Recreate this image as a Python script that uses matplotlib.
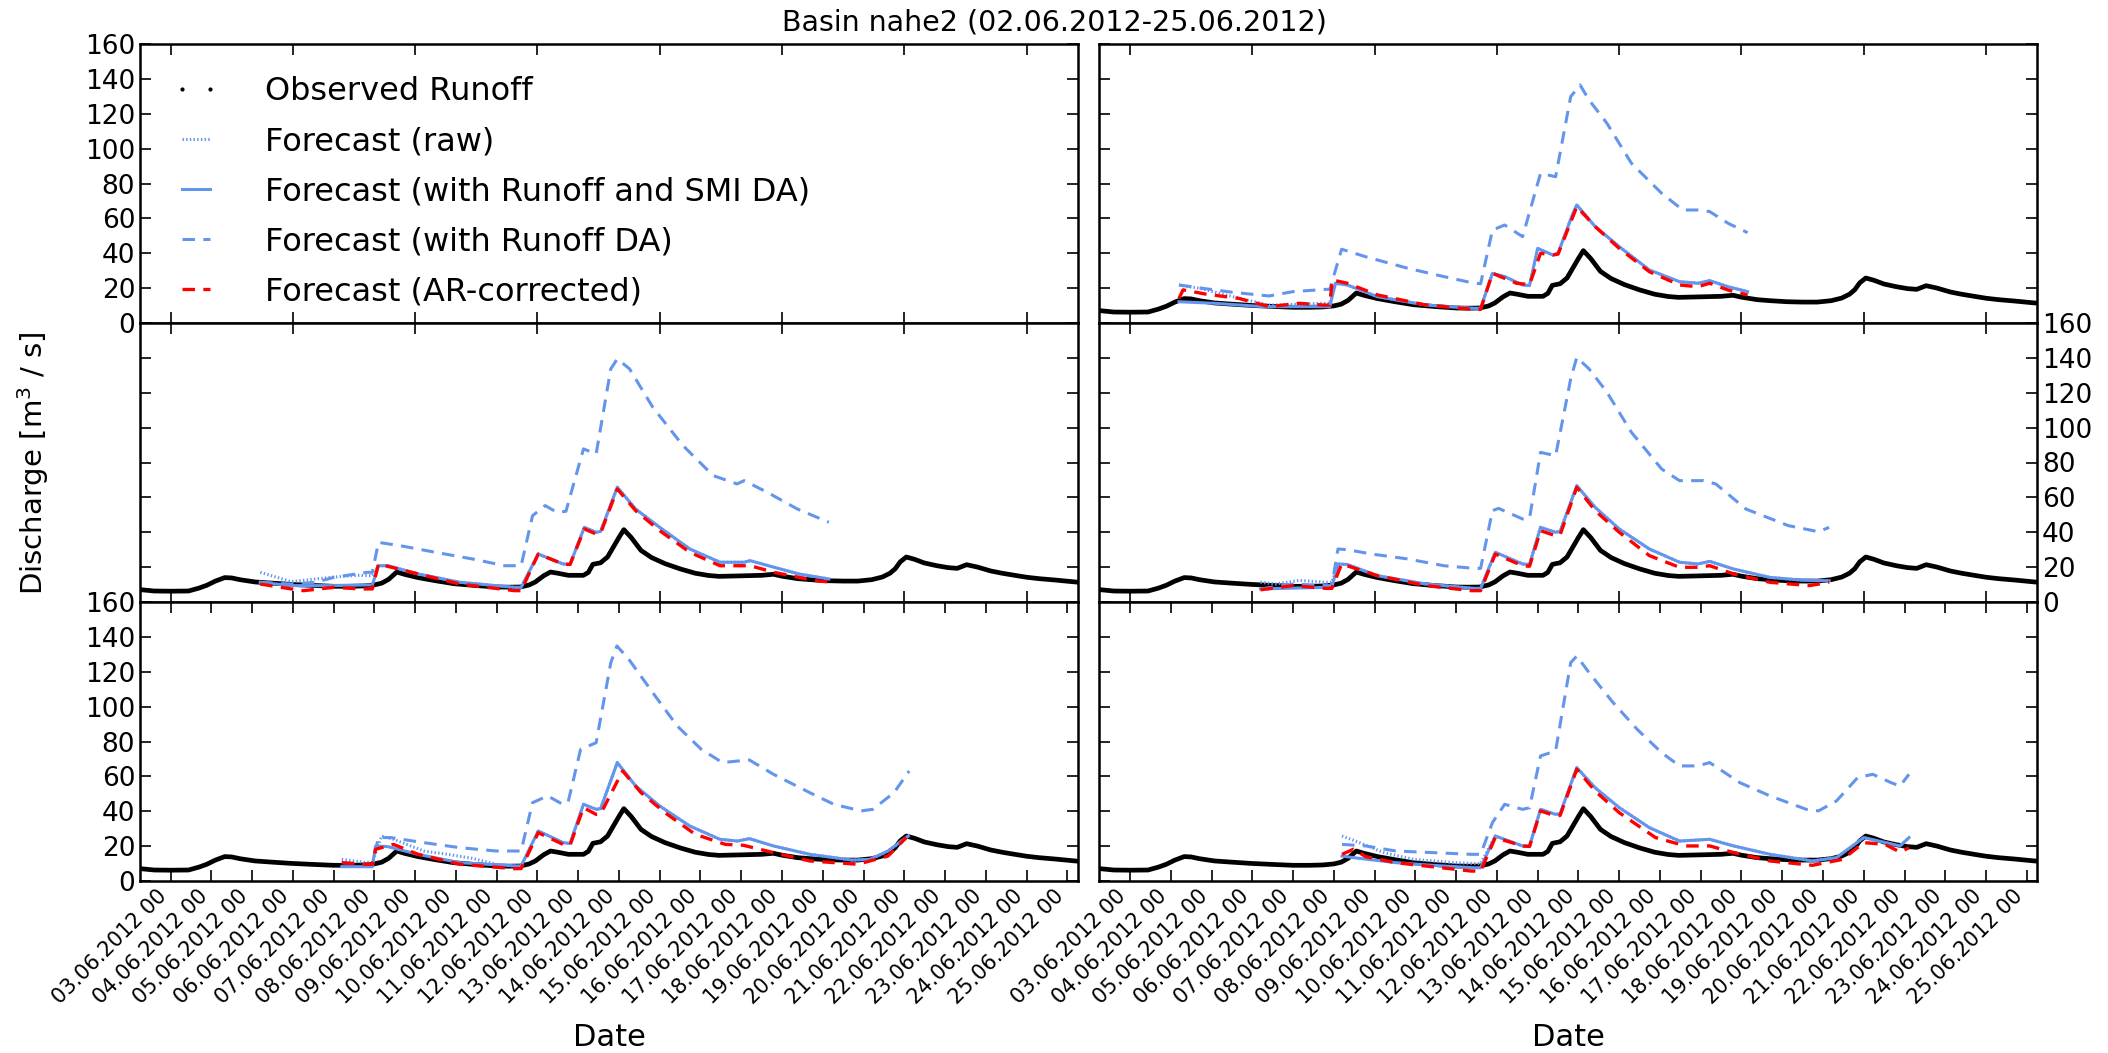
import numpy as np
import matplotlib
matplotlib.use("Agg")
import matplotlib.pyplot as plt
from matplotlib.lines import Line2D

# ---------------- data (time in days since 03.06.2012 00:00) ----------------
obs_day = [-0.75, -0.4, 0.0, 0.44, 0.7, 0.89, 1.1, 1.33, 1.5, 1.7, 2.07, 2.5, 2.96, 3.5, 4.0,
           4.4, 4.73, 5.0, 5.18, 5.35, 5.55, 5.75, 6.07, 6.5, 6.95, 7.5, 8.0, 8.3, 8.58, 8.8,
           8.95, 9.15, 9.32, 9.5, 9.76, 10.13, 10.25, 10.36, 10.55, 10.72, 10.85, 11.0, 11.12,
           11.3, 11.54, 11.8, 12.13, 12.5, 12.87, 13.2, 13.46, 14.0, 14.5, 14.79, 15.0, 15.38,
           15.7, 16.12, 16.5, 16.86, 17.2, 17.46, 17.65, 17.78, 17.9, 18.05, 18.25, 18.49, 18.8,
           19.08, 19.3, 19.53, 19.8, 20.12, 20.4, 20.71, 21.0, 21.3, 21.7, 22.19, 22.25]
obs_q = [7.1, 6.3, 6.2, 6.3, 8.0, 9.6, 12.0, 14.0, 13.8, 12.8, 11.5, 10.8, 10.1, 9.5, 9.0,
         9.0, 9.2, 9.8, 10.8, 13.0, 17.2, 15.8, 14.0, 12.2, 10.5, 9.4, 8.6, 8.5, 8.6, 9.8,
         11.5, 15.0, 17.2, 16.5, 15.3, 15.3, 17.0, 21.6, 22.5, 25.8, 31.0, 37.0, 41.5,
         37.0, 29.6, 25.5, 22.0, 19.0, 16.5, 15.2, 14.7, 15.0, 15.3, 15.9, 14.8, 13.4,
         12.8, 12.2, 12.0, 12.0, 12.8, 14.3, 16.5, 19.1, 23.0, 25.8, 24.5, 22.4, 20.8,
         19.7, 19.3, 21.4, 20.0, 17.8, 16.5, 15.3, 14.2, 13.4, 12.6, 11.5, 11.4]

# panel 1 (top right): forecast issued 04.06
p1_smi_t = [1.2, 2.07, 3.26, 4.0, 4.9, 5.04, 5.33, 6.07, 7.26, 8.44, 8.6, 8.89, 9.19, 9.63, 9.8, 10.0,
            10.37, 10.5, 10.85, 10.96, 11.41, 12.0, 12.74, 13.48, 13.93, 14.22, 14.67, 15.15]
p1_smi = [12.2, 11.3, 9.4, 9.4, 9.4, 22.8, 21.8, 15.1, 10.3, 8.4, 8.4, 28.5, 26.6, 21.8, 21.5, 42.8,
          39.0, 40.0, 62.0, 67.7, 55.3, 43.8, 30.4, 23.7, 22.8, 24.3, 20.8, 18.0]
p1_rda_t = [1.2, 1.78, 2.52, 3.41, 4.0, 4.81, 4.9, 5.19, 5.78, 6.81, 7.7, 8.44, 8.6, 8.89, 9.19, 9.63,
            10.07, 10.44, 10.81, 11.04, 11.26, 11.7, 12.3, 13.04, 13.56, 13.93, 14.22, 14.67, 15.15]
p1_rda = [21.8, 19.9, 17.6, 15.5, 18.0, 19.3, 19.3, 42.3, 38.0, 31.4, 26.6, 22.8, 22.5, 53.3, 56.2, 49.5,
          85.8, 83.9, 129.8, 136.5, 127.9, 114.5, 91.6, 74.4, 64.8, 64.8, 63.9, 57.2, 51.8]
p1_ar_t = [1.2, 1.3, 1.85, 2.67, 3.41, 4.15, 4.74, 4.9, 4.96, 5.33, 6.07, 7.26, 8.44, 8.6, 8.89, 9.48,
           9.8, 10.07, 10.37, 10.5, 10.96, 11.41, 12.0, 12.74, 13.48, 13.93, 14.22, 14.67, 15.15]
p1_ar = [14.1, 19.0, 16.6, 14.1, 9.4, 11.3, 10.3, 10.3, 24.7, 22.8, 16.1, 10.3, 7.8, 7.8, 28.5, 22.8,
         22.0, 40.0, 39.0, 39.5, 66.7, 55.3, 42.8, 29.4, 21.8, 20.8, 22.8, 18.9, 16.1]
p1_raw_t = [1.2, 1.7, 2.52, 3.41, 4.15, 4.74, 4.9, 5.04]
p1_raw = [21.8, 19.9, 15.1, 10.3, 10.8, 11.3, 11.3, 22.8]

# panel 2 (middle left): forecast issued 05.06
p2_smi_t = [2.2, 2.96, 4.0, 4.81, 4.95, 5.1, 5.33, 6.07, 7.1, 8.44, 8.6, 9.02, 9.63, 9.8, 10.15, 10.44,
            10.55, 10.96, 11.41, 12.0, 12.74, 13.48, 14.07, 14.22, 14.81, 15.41, 16.15]
p2_smi = [11.3, 9.4, 9.4, 9.8, 9.8, 20.8, 20.8, 16.1, 11.3, 8.4, 8.4, 27.5, 21.8, 21.5, 42.8, 40.0,
          40.5, 65.8, 53.3, 42.8, 30.4, 22.8, 22.8, 23.7, 19.9, 16.1, 13.2]
p2_rda_t = [2.2, 2.96, 3.56, 4.0, 4.81, 4.95, 5.1, 5.63, 6.5, 7.4, 8.2, 8.6, 8.88, 9.19, 9.48, 9.7,
            10.13, 10.44, 10.8, 10.96, 11.26, 11.83, 12.57, 13.31, 13.9, 14.07, 14.64, 15.38, 16.15]
p2_rda = [11.3, 10.3, 11.3, 14.1, 17.0, 17.0, 34.2, 32.3, 28.5, 24.7, 20.8, 20.8, 49.5, 55.3, 51.4, 52.0,
          87.8, 84.9, 133.7, 139.4, 133.7, 111.7, 89.7, 72.5, 67.7, 69.6, 62.9, 53.3, 45.7]
p2_ar_t = [2.2, 2.96, 3.26, 4.0, 4.66, 4.95, 5.1, 6.07, 7.1, 8.44, 8.6, 9.02, 9.63, 9.8, 10.15, 10.44,
           10.55, 10.96, 11.41, 12.0, 12.74, 13.48, 14.22, 14.81, 15.83, 16.15]
p2_ar = [10.3, 7.5, 6.5, 8.4, 7.5, 7.5, 21.8, 16.1, 10.3, 6.5, 6.5, 27.5, 21.8, 21.5, 41.9, 39.0,
         39.5, 64.8, 52.4, 40.9, 28.5, 20.8, 20.8, 17.0, 12.2, 11.5]
p2_raw_t = [2.2, 2.96, 4.0, 4.59, 4.95, 5.1]
p2_raw = [17.0, 11.7, 14.3, 15.3, 15.0, 20.8]

# panel 3 (middle right): forecast issued 06.06
p3_smi_t = [3.2, 4.81, 4.95, 5.1, 5.33, 6.07, 7.26, 8.44, 8.6, 8.96, 9.63, 9.8, 10.07, 10.44, 10.55,
            10.96, 11.41, 12.0, 12.74, 13.48, 13.93, 14.22, 14.81, 15.7, 16.5, 17.15]
p3_smi = [7.5, 8.4, 8.4, 21.8, 21.5, 15.1, 10.3, 7.8, 7.8, 28.5, 21.8, 21.5, 42.8, 40.0, 40.5,
          66.7, 54.3, 41.9, 30.4, 22.8, 21.8, 23.3, 18.9, 14.1, 12.5, 12.2]
p3_rda_t = [3.2, 4.0, 4.81, 4.95, 5.1, 5.33, 5.93, 6.81, 7.7, 8.44, 8.6, 8.89, 9.04, 9.63, 9.8, 10.07,
            10.44, 10.81, 10.96, 11.26, 11.7, 12.3, 13.04, 13.48, 14.07, 14.37, 15.11, 16.15, 16.89, 17.15]
p3_rda = [7.5, 10.3, 9.4, 9.4, 30.4, 30.0, 27.5, 24.7, 20.8, 19.3, 19.3, 52.4, 53.7, 47.6, 48.0, 85.8,
          83.9, 127.9, 140.3, 133.7, 120.3, 97.3, 76.3, 69.6, 69.6, 67.7, 53.3, 43.8, 40.3, 42.8]
p3_ar_t = [3.2, 4.0, 4.81, 4.95, 5.19, 6.07, 7.26, 8.37, 8.6, 8.96, 9.63, 9.8, 10.07, 10.44, 10.55,
           10.96, 11.41, 12.0, 12.74, 13.48, 13.93, 14.22, 14.81, 15.7, 16.67, 17.15]
p3_ar = [7.0, 9.4, 7.8, 7.8, 21.8, 15.1, 9.4, 6.5, 6.5, 27.5, 20.8, 20.5, 40.9, 38.0, 38.5,
         65.8, 52.4, 40.0, 26.6, 19.9, 19.9, 20.8, 16.1, 11.3, 9.4, 11.3]
p3_raw_t = [3.2, 3.56, 4.15, 4.81, 4.95, 5.1]
p3_raw = [11.3, 10.3, 12.4, 11.3, 11.3, 21.8]

# panel 4 (bottom left): forecast issued 07.06
p4_smi_t = [4.2, 4.81, 4.95, 5.03, 5.33, 6.07, 7.1, 8.5, 8.6, 9.02, 9.63, 9.8, 10.13, 10.44, 10.55,
            10.96, 11.41, 12.0, 12.74, 13.48, 13.91, 14.2, 14.79, 15.68, 16.72, 17.16, 17.6, 18.1]
p4_smi = [8.2, 8.2, 8.2, 20.1, 19.7, 15.3, 10.5, 8.6, 8.6, 28.7, 22.0, 21.5, 44.0, 41.1, 41.5,
          67.9, 54.5, 43.0, 31.5, 23.9, 22.9, 24.3, 20.1, 15.3, 12.0, 12.4, 17.2, 25.8]
p4_rda_t = [4.2, 4.81, 4.95, 5.1, 5.4, 6.21, 7.1, 7.99, 8.6, 8.88, 9.25, 9.62, 9.75, 10.06, 10.44,
            10.8, 10.95, 11.24, 11.83, 12.43, 13.02, 13.54, 13.91, 14.2, 14.79, 15.68, 16.27, 16.94,
            17.23, 17.75, 18.12]
p4_rda = [10.5, 9.6, 9.6, 24.9, 24.9, 22.0, 19.1, 17.2, 17.2, 44.9, 48.8, 44.0, 45.0, 75.5, 79.3,
          125.2, 134.8, 127.2, 108.0, 88.9, 75.5, 67.9, 68.8, 69.4, 61.2, 50.7, 44.0, 40.2,
          41.1, 50.7, 63.1]
p4_ar_t = [4.2, 4.74, 4.95, 5.03, 5.47, 6.07, 7.1, 8.43, 8.6, 9.02, 9.63, 9.8, 10.13, 10.44, 10.55,
           11.09, 11.54, 12.13, 12.87, 13.61, 14.05, 14.79, 15.68, 16.86, 17.6, 18.05]
p4_ar = [10.5, 9.6, 9.6, 18.2, 21.0, 15.3, 9.6, 7.1, 7.1, 27.7, 21.0, 20.5, 42.1, 38.2, 38.5,
         63.1, 50.7, 39.2, 26.8, 21.0, 20.5, 16.3, 11.5, 9.6, 14.3, 24.9]
p4_raw_t = [4.2, 4.74, 4.95, 5.18, 5.47, 6.21, 6.8, 7.4, 8.0]
p4_raw = [12.4, 10.8, 10.8, 25.8, 23.9, 17.2, 15.3, 13.0, 9.5]

# panel 5 (bottom right): forecast issued 08.06
p5_smi_t = [5.2, 5.48, 6.52, 7.41, 8.44, 8.6, 8.96, 9.63, 9.8, 10.07, 10.44, 10.55, 10.96, 11.41,
            12.0, 12.74, 13.48, 14.22, 14.81, 15.7, 16.74, 17.33, 18.0, 18.37, 18.89, 19.11]
p5_smi = [14.3, 13.4, 10.5, 9.0, 7.6, 7.6, 25.8, 20.1, 20.0, 41.1, 38.2, 38.6, 65.0, 53.5,
          42.1, 30.6, 22.9, 23.9, 20.1, 15.3, 11.5, 13.4, 24.9, 22.9, 20.1, 24.9]
p5_rda_t = [5.2, 5.78, 6.52, 7.41, 8.37, 8.6, 8.89, 9.19, 9.63, 9.8, 10.07, 10.44, 10.81, 10.96,
            11.26, 11.85, 12.44, 13.04, 13.48, 13.93, 14.22, 14.96, 15.7, 16.59, 16.89, 17.33,
            17.85, 18.22, 18.67, 18.89, 19.11]
p5_rda = [21.0, 20.1, 17.2, 16.3, 15.3, 15.3, 33.5, 44.0, 41.1, 42.0, 71.7, 74.6, 125.2, 129.0,
          119.5, 102.3, 87.0, 73.6, 66.0, 66.0, 67.9, 56.4, 48.8, 41.1, 40.2, 45.9,
          59.3, 61.2, 56.4, 54.5, 61.2]
p5_ar_t = [5.2, 5.48, 5.78, 6.52, 7.41, 8.37, 8.6, 8.96, 9.63, 9.8, 10.07, 10.44, 10.55, 10.96,
           11.41, 12.0, 12.89, 13.63, 14.22, 14.81, 15.7, 16.74, 17.48, 18.0, 18.52, 18.89, 19.11]
p5_ar = [15.3, 18.2, 14.0, 10.5, 8.2, 5.7, 5.7, 24.9, 20.1, 19.8, 40.2, 37.3, 37.6, 64.1,
         51.6, 39.2, 24.9, 20.1, 20.1, 16.3, 11.5, 9.0, 12.4, 22.0, 21.0, 16.6, 19.1]
p5_raw_t = [5.2, 5.63, 6.22, 6.96, 8.0, 8.44, 8.6, 8.96]
p5_raw = [25.8, 22.0, 16.3, 12.4, 10.5, 10.0, 10.0, 25.8]

x_range_days = [-0.75, 22.25]
labels = ["Observed Runoff", "Forecast (raw)", "Forecast (with Runoff and SMI DA)",
          "Forecast (with Runoff DA)", "Forecast (AR-corrected)"]
title = "Basin nahe2 (02.06.2012-25.06.2012)"

# ---------------- helpers ----------------
BASE = np.datetime64("2012-06-03T00:00")


def to_dates(days):
    return BASE + np.round(np.asarray(days, dtype=float) * 24 * 60).astype("timedelta64[m]")


BLUE = "#6495ED"
plt.rcParams.update({
    "font.family": "DejaVu Sans",
    "xtick.direction": "in", "ytick.direction": "in",
    "xtick.top": True, "ytick.right": True,
    "xtick.major.size": 8, "ytick.major.size": 8,
    "xtick.major.width": 1.2, "ytick.major.width": 1.2,
    "axes.linewidth": 1.8,
    "lines.scale_dashes": False,
})

fig = plt.figure(figsize=(21.08, 10.53), dpi=100)
axes = fig.subplots(3, 2)
fig.subplots_adjust(left=140 / 2108, right=2037 / 2108, top=1 - 44 / 1053,
                    bottom=1 - 881 / 1053, hspace=0, wspace=22 / 938)

panels = {
    (0, 1): (p1_raw_t, p1_raw, p1_smi_t, p1_smi, p1_rda_t, p1_rda, p1_ar_t, p1_ar),
    (1, 0): (p2_raw_t, p2_raw, p2_smi_t, p2_smi, p2_rda_t, p2_rda, p2_ar_t, p2_ar),
    (1, 1): (p3_raw_t, p3_raw, p3_smi_t, p3_smi, p3_rda_t, p3_rda, p3_ar_t, p3_ar),
    (2, 0): (p4_raw_t, p4_raw, p4_smi_t, p4_smi, p4_rda_t, p4_rda, p4_ar_t, p4_ar),
    (2, 1): (p5_raw_t, p5_raw, p5_smi_t, p5_smi, p5_rda_t, p5_rda, p5_ar_t, p5_ar),
}

DASH = (9, 6)
for r in range(3):
    for c in range(2):
        ax = axes[r, c]
        key = (r, c)
        if key in panels:
            raw_t, raw_q, smi_t, smi_q, rda_t, rda_q, ar_t, ar_q = panels[key]
            # raw forecast coincides with the SMI DA run after the early part
            full_raw_t = list(raw_t) + [t for t in smi_t if t > raw_t[-1]]
            full_raw_q = list(raw_q) + [q for t, q in zip(smi_t, smi_q) if t > raw_t[-1]]
            ax.plot(to_dates(obs_day), obs_q, color="black", lw=3.4, zorder=2)
            ax.plot(to_dates(full_raw_t), full_raw_q, color=BLUE, lw=2.2, ls=":", zorder=3)
            ax.plot(to_dates(smi_t), smi_q, color=BLUE, lw=2.2, ls="-", zorder=3)
            ax.plot(to_dates(rda_t), rda_q, color=BLUE, lw=2.2, ls="--", dashes=DASH, zorder=3)
            ax.plot(to_dates(ar_t), ar_q, color="red", lw=2.4, ls="--", dashes=DASH, zorder=4)
        ax.set_xlim(to_dates(x_range_days))
        ax.set_ylim(0, 160)
        ax.set_yticks(np.arange(0, 161, 20))
        ax.tick_params(axis="y", labelsize=19)
        if r == 2:
            tick_days = np.arange(0, 23, 1)
            tick_dates = to_dates(tick_days)
            tick_labels = [str(np.datetime_as_string(d, unit="D")) for d in tick_dates]
            tick_labels = ["%s.%s.%s 00" % (s[8:10], s[5:7], s[0:4]) for s in tick_labels]
            ax.set_xticks(tick_dates)
            ax.set_xticklabels(tick_labels, rotation=45, ha="right", fontsize=15)
        else:
            ax.set_xticks(to_dates(np.arange(0, 23, 3)))
            ax.tick_params(axis="x", labelbottom=False)
        if c == 1:
            if r == 1:
                ax.tick_params(axis="y", labelleft=False, labelright=True)
            else:
                ax.tick_params(axis="y", labelleft=False)
        else:
            if r == 1:
                ax.tick_params(axis="y", labelleft=False)

# legend panel
handles = [
    Line2D([], [], color="black", ls="none", marker=".", markersize=4),
    Line2D([], [], color=BLUE, lw=2.2, ls=":"),
    Line2D([], [], color=BLUE, lw=2.2, ls="-"),
    Line2D([], [], color=BLUE, lw=2.2, ls="--", dashes=DASH),
    Line2D([], [], color="red", lw=2.4, ls="--", dashes=DASH),
]
axes[0, 0].legend(handles, labels, loc="upper left", frameon=False, fontsize=23,
                  numpoints=2, handlelength=1.5, handletextpad=1.4, labelspacing=0.6,
                  borderaxespad=0.6, borderpad=0.4)

fig.text(0.5, 1 - 22 / 1053, title, ha="center", va="center", fontsize=20.5)
fig.text(33 / 2108, 1 - 463 / 1053, "Discharge [m$^3$ / s]", rotation=90,
         ha="center", va="center", fontsize=21)
fig.text(609 / 2108, 1 - 1037 / 1053, "Date", ha="center", va="center", fontsize=22)
fig.text(1568 / 2108, 1 - 1037 / 1053, "Date", ha="center", va="center", fontsize=22)

fig.savefig("out.png", dpi=100, facecolor="white")
